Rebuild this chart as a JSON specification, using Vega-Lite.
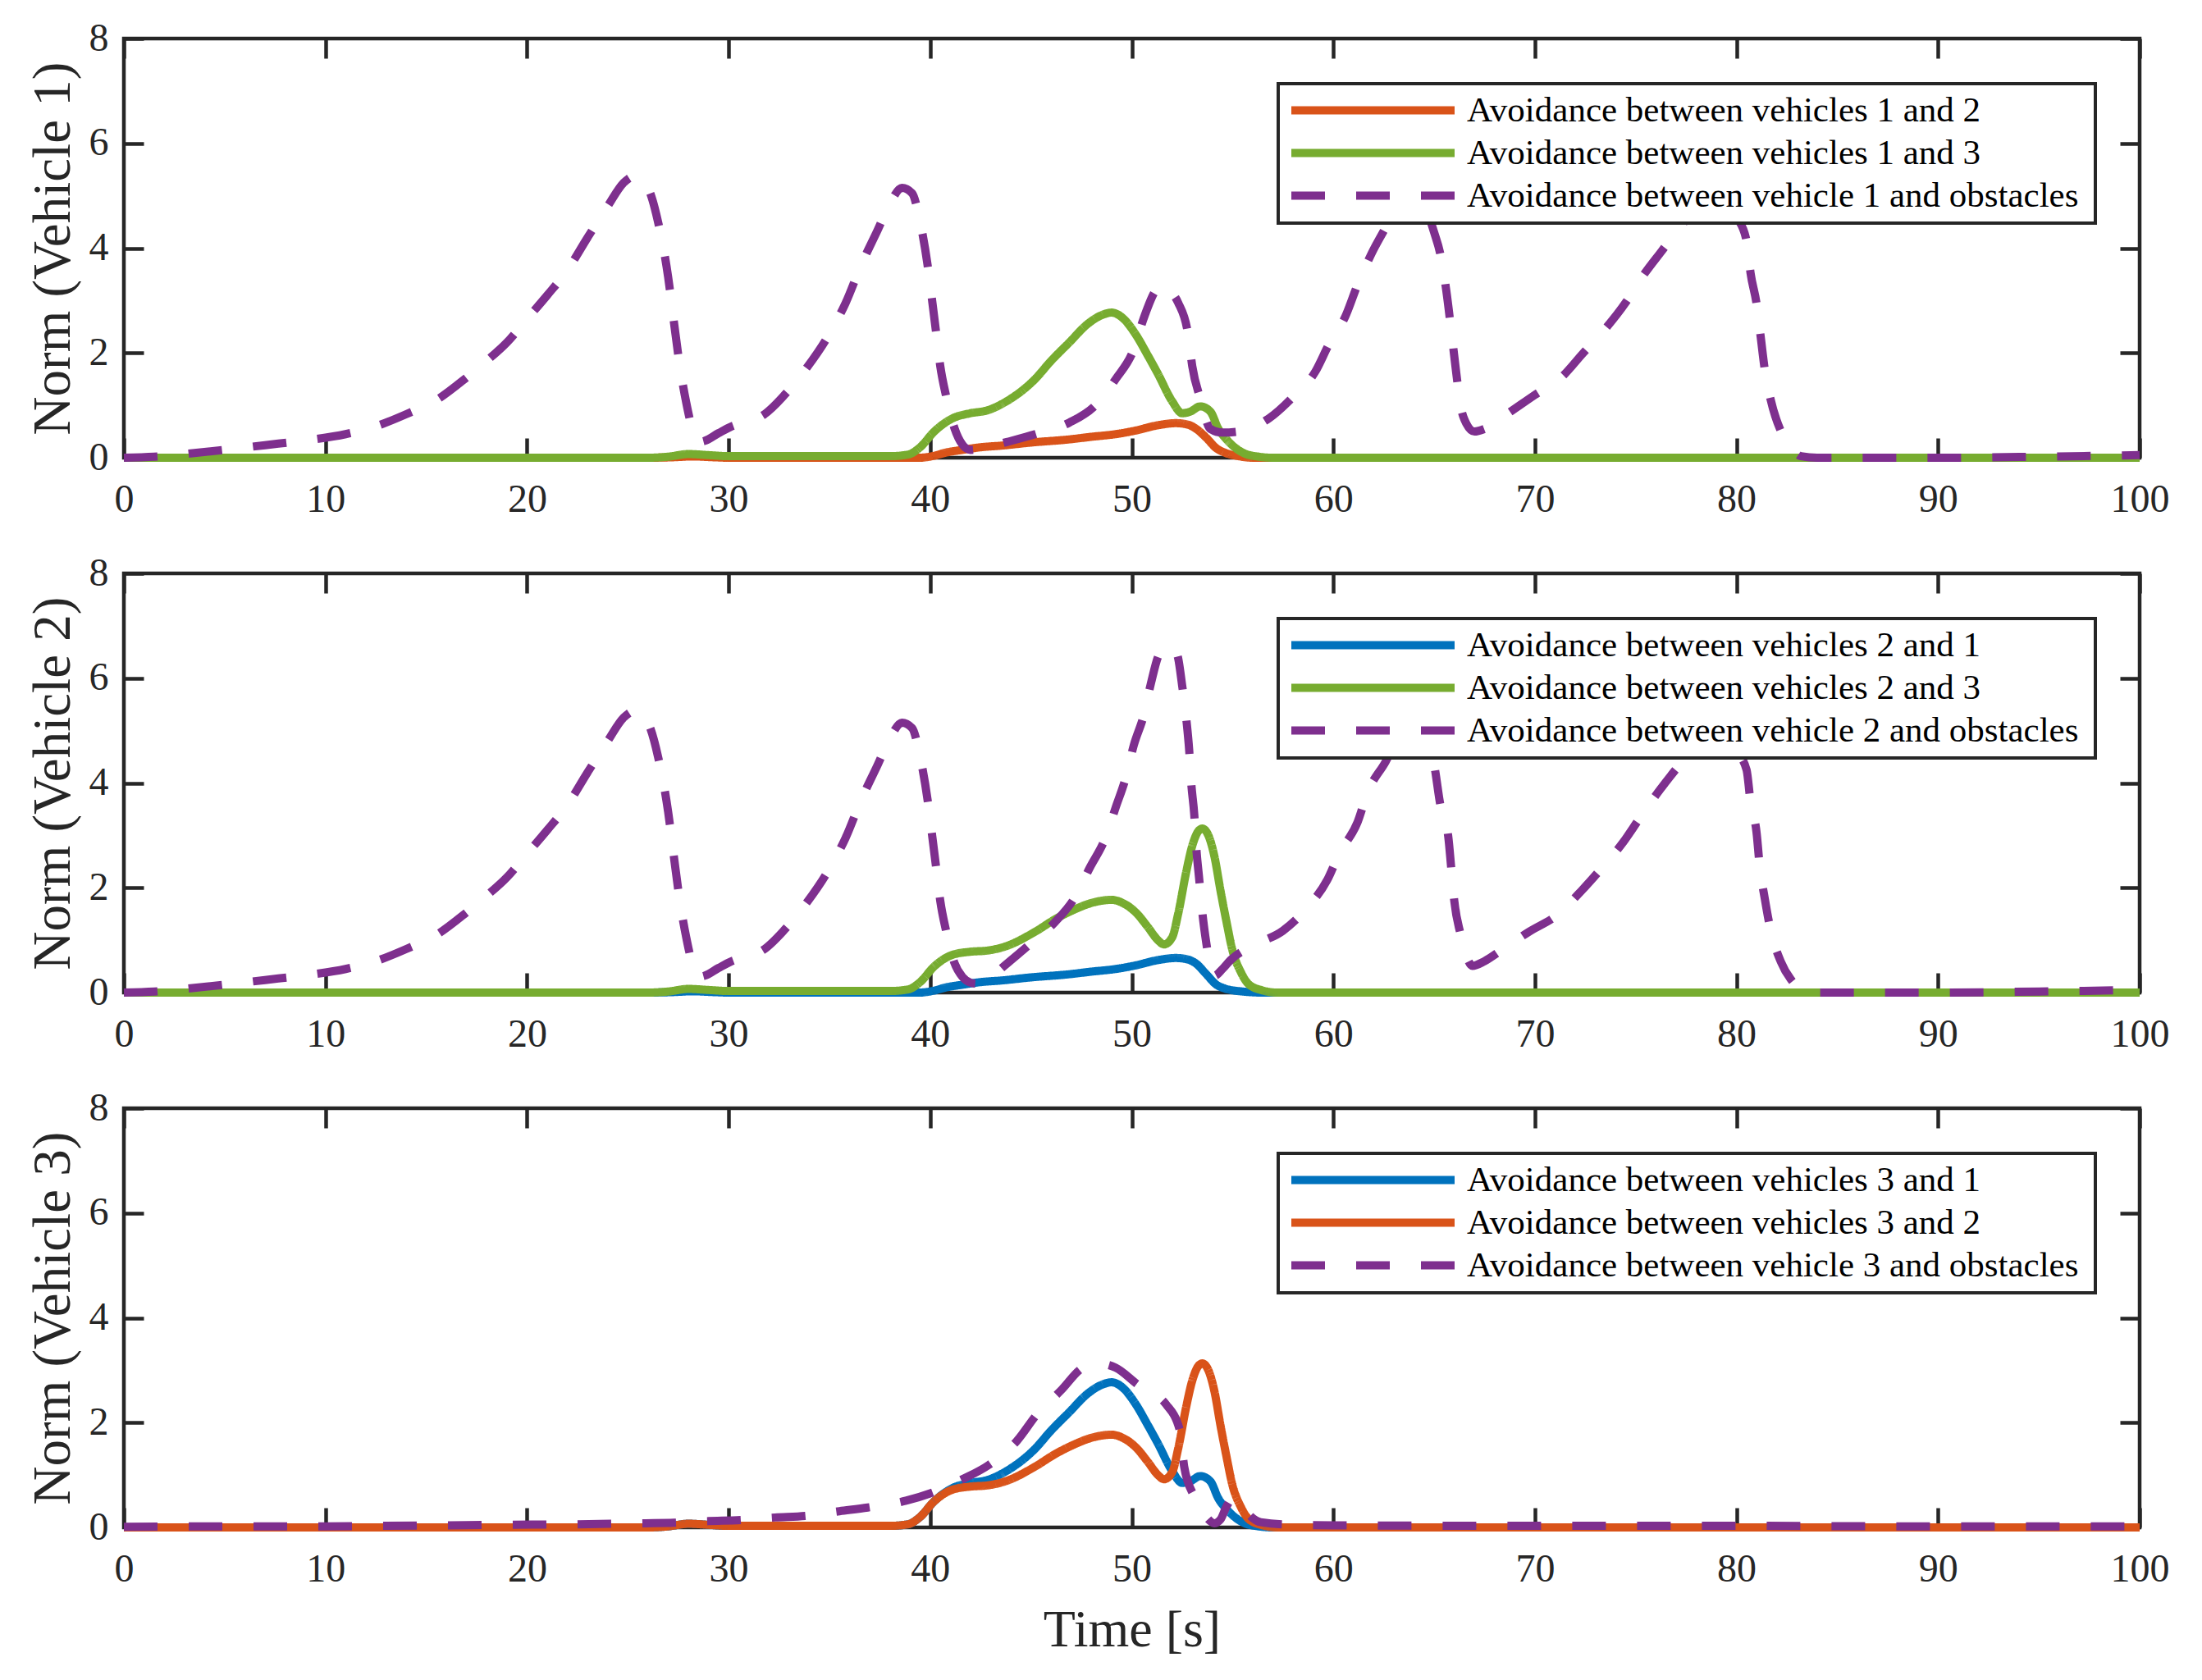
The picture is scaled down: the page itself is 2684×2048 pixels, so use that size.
{
  "$schema": "https://vega.github.io/schema/vega-lite/v6.json",
  "background": "white",
  "autosize": {"type": "pad"},
  "padding": {"left": 29, "top": 20, "right": 5, "bottom": 5},
  "datasets": {
    "curves": [
      {"p":1,"s":"a","t":0,"v":0},{"p":1,"s":"a","t":26,"v":0},{"p":1,"s":"a","t":27.3,"v":0.01},{"p":1,"s":"a","t":28.2,"v":0.025},{"p":1,"s":"a","t":29.2,"v":0.01},{"p":1,"s":"a","t":30,"v":0},{"p":1,"s":"a","t":39.5,"v":0},{"p":1,"s":"a","t":40.1,"v":0.03},{"p":1,"s":"a","t":40.8,"v":0.1},{"p":1,"s":"a","t":41.6,"v":0.15},{"p":1,"s":"a","t":42.5,"v":0.2},{"p":1,"s":"a","t":43.5,"v":0.23},{"p":1,"s":"a","t":45,"v":0.29},{"p":1,"s":"a","t":46.9,"v":0.35},{"p":1,"s":"a","t":48,"v":0.4},{"p":1,"s":"a","t":49.2,"v":0.45},{"p":1,"s":"a","t":50.2,"v":0.52},{"p":1,"s":"a","t":51.3,"v":0.62},{"p":1,"s":"a","t":52.2,"v":0.66},{"p":1,"s":"a","t":52.8,"v":0.63},{"p":1,"s":"a","t":53.2,"v":0.55},{"p":1,"s":"a","t":53.7,"v":0.38},{"p":1,"s":"a","t":54.2,"v":0.18},{"p":1,"s":"a","t":54.6,"v":0.1},{"p":1,"s":"a","t":55.3,"v":0.03},{"p":1,"s":"a","t":56,"v":0},{"p":1,"s":"a","t":100,"v":0},
      {"p":1,"s":"b","t":0,"v":0},{"p":1,"s":"b","t":26,"v":0},{"p":1,"s":"b","t":27,"v":0.02},{"p":1,"s":"b","t":28,"v":0.07},{"p":1,"s":"b","t":29,"v":0.05},{"p":1,"s":"b","t":30,"v":0.03},{"p":1,"s":"b","t":38,"v":0.03},{"p":1,"s":"b","t":38.9,"v":0.06},{"p":1,"s":"b","t":39.5,"v":0.2},{"p":1,"s":"b","t":40.2,"v":0.5},{"p":1,"s":"b","t":41.1,"v":0.75},{"p":1,"s":"b","t":42,"v":0.85},{"p":1,"s":"b","t":42.8,"v":0.9},{"p":1,"s":"b","t":43.8,"v":1.08},{"p":1,"s":"b","t":45.2,"v":1.5},{"p":1,"s":"b","t":46,"v":1.85},{"p":1,"s":"b","t":46.9,"v":2.2},{"p":1,"s":"b","t":47.8,"v":2.55},{"p":1,"s":"b","t":48.5,"v":2.72},{"p":1,"s":"b","t":49,"v":2.77},{"p":1,"s":"b","t":49.6,"v":2.65},{"p":1,"s":"b","t":50.2,"v":2.35},{"p":1,"s":"b","t":50.8,"v":1.95},{"p":1,"s":"b","t":51.3,"v":1.6},{"p":1,"s":"b","t":52,"v":1.08},{"p":1,"s":"b","t":52.5,"v":0.85},{"p":1,"s":"b","t":52.9,"v":0.88},{"p":1,"s":"b","t":53.4,"v":0.98},{"p":1,"s":"b","t":53.9,"v":0.88},{"p":1,"s":"b","t":54.3,"v":0.55},{"p":1,"s":"b","t":54.7,"v":0.35},{"p":1,"s":"b","t":55.1,"v":0.2},{"p":1,"s":"b","t":55.6,"v":0.08},{"p":1,"s":"b","t":56.3,"v":0.02},{"p":1,"s":"b","t":57,"v":0},{"p":1,"s":"b","t":100,"v":0},
      {"p":1,"s":"o","t":0,"v":0},{"p":1,"s":"o","t":1.5,"v":0.02},{"p":1,"s":"o","t":3,"v":0.07},{"p":1,"s":"o","t":5,"v":0.15},{"p":1,"s":"o","t":7,"v":0.24},{"p":1,"s":"o","t":9,"v":0.33},{"p":1,"s":"o","t":11,"v":0.45},{"p":1,"s":"o","t":12.5,"v":0.6},{"p":1,"s":"o","t":14,"v":0.83},{"p":1,"s":"o","t":15.5,"v":1.1},{"p":1,"s":"o","t":17,"v":1.53},{"p":1,"s":"o","t":18,"v":1.85},{"p":1,"s":"o","t":19,"v":2.2},{"p":1,"s":"o","t":20,"v":2.65},{"p":1,"s":"o","t":21,"v":3.1},{"p":1,"s":"o","t":22,"v":3.58},{"p":1,"s":"o","t":23,"v":4.2},{"p":1,"s":"o","t":24,"v":4.8},{"p":1,"s":"o","t":24.8,"v":5.25},{"p":1,"s":"o","t":25.4,"v":5.38},{"p":1,"s":"o","t":26,"v":5.15},{"p":1,"s":"o","t":26.5,"v":4.5},{"p":1,"s":"o","t":27,"v":3.45},{"p":1,"s":"o","t":27.3,"v":2.55},{"p":1,"s":"o","t":27.6,"v":1.7},{"p":1,"s":"o","t":27.9,"v":1.05},{"p":1,"s":"o","t":28.2,"v":0.55},{"p":1,"s":"o","t":28.5,"v":0.3},{"p":1,"s":"o","t":28.8,"v":0.32},{"p":1,"s":"o","t":29.5,"v":0.47},{"p":1,"s":"o","t":30.1,"v":0.59},{"p":1,"s":"o","t":31,"v":0.7},{"p":1,"s":"o","t":31.7,"v":0.81},{"p":1,"s":"o","t":32.8,"v":1.21},{"p":1,"s":"o","t":33.9,"v":1.73},{"p":1,"s":"o","t":34.9,"v":2.3},{"p":1,"s":"o","t":35.8,"v":2.95},{"p":1,"s":"o","t":36.6,"v":3.7},{"p":1,"s":"o","t":37.4,"v":4.35},{"p":1,"s":"o","t":38,"v":4.85},{"p":1,"s":"o","t":38.6,"v":5.15},{"p":1,"s":"o","t":39.1,"v":5.05},{"p":1,"s":"o","t":39.5,"v":4.5},{"p":1,"s":"o","t":39.9,"v":3.6},{"p":1,"s":"o","t":40.1,"v":2.99},{"p":1,"s":"o","t":40.3,"v":2.37},{"p":1,"s":"o","t":40.5,"v":1.75},{"p":1,"s":"o","t":40.8,"v":1.16},{"p":1,"s":"o","t":41.2,"v":0.57},{"p":1,"s":"o","t":41.6,"v":0.25},{"p":1,"s":"o","t":42,"v":0.15},{"p":1,"s":"o","t":42.8,"v":0.2},{"p":1,"s":"o","t":43.8,"v":0.3},{"p":1,"s":"o","t":45.3,"v":0.46},{"p":1,"s":"o","t":46.9,"v":0.67},{"p":1,"s":"o","t":48.2,"v":1.0},{"p":1,"s":"o","t":49.2,"v":1.5},{"p":1,"s":"o","t":50.1,"v":2.07},{"p":1,"s":"o","t":50.6,"v":2.67},{"p":1,"s":"o","t":51.2,"v":3.2},{"p":1,"s":"o","t":51.6,"v":3.3},{"p":1,"s":"o","t":52,"v":3.15},{"p":1,"s":"o","t":52.3,"v":2.96},{"p":1,"s":"o","t":52.8,"v":2.34},{"p":1,"s":"o","t":53,"v":1.75},{"p":1,"s":"o","t":53.4,"v":1.13},{"p":1,"s":"o","t":53.9,"v":0.55},{"p":1,"s":"o","t":54.5,"v":0.48},{"p":1,"s":"o","t":55.3,"v":0.5},{"p":1,"s":"o","t":56,"v":0.58},{"p":1,"s":"o","t":56.8,"v":0.75},{"p":1,"s":"o","t":58,"v":1.16},{"p":1,"s":"o","t":59.1,"v":1.64},{"p":1,"s":"o","t":59.8,"v":2.18},{"p":1,"s":"o","t":60.6,"v":2.7},{"p":1,"s":"o","t":61.2,"v":3.3},{"p":1,"s":"o","t":61.9,"v":3.9},{"p":1,"s":"o","t":62.6,"v":4.4},{"p":1,"s":"o","t":63.4,"v":5.0},{"p":1,"s":"o","t":64,"v":5.2},{"p":1,"s":"o","t":64.5,"v":4.85},{"p":1,"s":"o","t":65,"v":4.3},{"p":1,"s":"o","t":65.3,"v":3.9},{"p":1,"s":"o","t":65.6,"v":3.2},{"p":1,"s":"o","t":65.9,"v":2.26},{"p":1,"s":"o","t":66.1,"v":1.61},{"p":1,"s":"o","t":66.3,"v":1.02},{"p":1,"s":"o","t":66.6,"v":0.65},{"p":1,"s":"o","t":67,"v":0.5},{"p":1,"s":"o","t":67.5,"v":0.55},{"p":1,"s":"o","t":68.6,"v":0.83},{"p":1,"s":"o","t":70,"v":1.2},{"p":1,"s":"o","t":71.3,"v":1.53},{"p":1,"s":"o","t":72.4,"v":2.0},{"p":1,"s":"o","t":73.4,"v":2.42},{"p":1,"s":"o","t":74.5,"v":2.96},{"p":1,"s":"o","t":75.3,"v":3.44},{"p":1,"s":"o","t":76.3,"v":3.95},{"p":1,"s":"o","t":77.3,"v":4.45},{"p":1,"s":"o","t":78.3,"v":4.85},{"p":1,"s":"o","t":79.2,"v":5.0},{"p":1,"s":"o","t":80,"v":4.6},{"p":1,"s":"o","t":80.5,"v":4.14},{"p":1,"s":"o","t":80.7,"v":3.52},{"p":1,"s":"o","t":81,"v":2.93},{"p":1,"s":"o","t":81.2,"v":2.31},{"p":1,"s":"o","t":81.4,"v":1.69},{"p":1,"s":"o","t":81.7,"v":1.1},{"p":1,"s":"o","t":82.2,"v":0.51},{"p":1,"s":"o","t":82.7,"v":0.2},{"p":1,"s":"o","t":83.2,"v":0.03},{"p":1,"s":"o","t":84,"v":0},{"p":1,"s":"o","t":90,"v":0},{"p":1,"s":"o","t":95,"v":0.02},{"p":1,"s":"o","t":100,"v":0.05},

      {"p":2,"s":"a","t":0,"v":0},{"p":2,"s":"a","t":26,"v":0},{"p":2,"s":"a","t":27.3,"v":0.01},{"p":2,"s":"a","t":28.2,"v":0.025},{"p":2,"s":"a","t":29.2,"v":0.01},{"p":2,"s":"a","t":30,"v":0},{"p":2,"s":"a","t":39.5,"v":0},{"p":2,"s":"a","t":40.1,"v":0.03},{"p":2,"s":"a","t":40.8,"v":0.1},{"p":2,"s":"a","t":41.6,"v":0.15},{"p":2,"s":"a","t":42.5,"v":0.2},{"p":2,"s":"a","t":43.5,"v":0.23},{"p":2,"s":"a","t":45,"v":0.29},{"p":2,"s":"a","t":46.9,"v":0.35},{"p":2,"s":"a","t":48,"v":0.4},{"p":2,"s":"a","t":49.2,"v":0.45},{"p":2,"s":"a","t":50.2,"v":0.52},{"p":2,"s":"a","t":51.3,"v":0.62},{"p":2,"s":"a","t":52.2,"v":0.66},{"p":2,"s":"a","t":52.8,"v":0.63},{"p":2,"s":"a","t":53.2,"v":0.55},{"p":2,"s":"a","t":53.7,"v":0.35},{"p":2,"s":"a","t":54.2,"v":0.15},{"p":2,"s":"a","t":54.6,"v":0.08},{"p":2,"s":"a","t":55.5,"v":0.02},{"p":2,"s":"a","t":56.5,"v":0},{"p":2,"s":"a","t":100,"v":0},
      {"p":2,"s":"b","t":0,"v":0},{"p":2,"s":"b","t":26,"v":0},{"p":2,"s":"b","t":27,"v":0.02},{"p":2,"s":"b","t":28,"v":0.07},{"p":2,"s":"b","t":29,"v":0.05},{"p":2,"s":"b","t":30,"v":0.03},{"p":2,"s":"b","t":38,"v":0.03},{"p":2,"s":"b","t":38.9,"v":0.06},{"p":2,"s":"b","t":39.5,"v":0.2},{"p":2,"s":"b","t":40.2,"v":0.5},{"p":2,"s":"b","t":41.1,"v":0.72},{"p":2,"s":"b","t":42,"v":0.78},{"p":2,"s":"b","t":42.8,"v":0.8},{"p":2,"s":"b","t":43.8,"v":0.89},{"p":2,"s":"b","t":45.2,"v":1.16},{"p":2,"s":"b","t":46.2,"v":1.4},{"p":2,"s":"b","t":46.9,"v":1.54},{"p":2,"s":"b","t":48.2,"v":1.73},{"p":2,"s":"b","t":49,"v":1.77},{"p":2,"s":"b","t":49.6,"v":1.7},{"p":2,"s":"b","t":50.2,"v":1.53},{"p":2,"s":"b","t":50.8,"v":1.25},{"p":2,"s":"b","t":51.3,"v":1.0},{"p":2,"s":"b","t":51.6,"v":0.92},{"p":2,"s":"b","t":52,"v":1.05},{"p":2,"s":"b","t":52.3,"v":1.5},{"p":2,"s":"b","t":52.7,"v":2.3},{"p":2,"s":"b","t":53,"v":2.8},{"p":2,"s":"b","t":53.3,"v":3.08},{"p":2,"s":"b","t":53.5,"v":3.13},{"p":2,"s":"b","t":53.8,"v":3.0},{"p":2,"s":"b","t":54.1,"v":2.6},{"p":2,"s":"b","t":54.4,"v":1.95},{"p":2,"s":"b","t":54.7,"v":1.35},{"p":2,"s":"b","t":55,"v":0.8},{"p":2,"s":"b","t":55.4,"v":0.4},{"p":2,"s":"b","t":55.8,"v":0.16},{"p":2,"s":"b","t":56.5,"v":0.04},{"p":2,"s":"b","t":57.2,"v":0},{"p":2,"s":"b","t":100,"v":0},
      {"p":2,"s":"o","t":0,"v":0},{"p":2,"s":"o","t":1.5,"v":0.02},{"p":2,"s":"o","t":3,"v":0.07},{"p":2,"s":"o","t":5,"v":0.15},{"p":2,"s":"o","t":7,"v":0.24},{"p":2,"s":"o","t":9,"v":0.33},{"p":2,"s":"o","t":11,"v":0.45},{"p":2,"s":"o","t":12.5,"v":0.6},{"p":2,"s":"o","t":14,"v":0.83},{"p":2,"s":"o","t":15.5,"v":1.1},{"p":2,"s":"o","t":17,"v":1.53},{"p":2,"s":"o","t":18,"v":1.85},{"p":2,"s":"o","t":19,"v":2.2},{"p":2,"s":"o","t":20,"v":2.65},{"p":2,"s":"o","t":21,"v":3.1},{"p":2,"s":"o","t":22,"v":3.58},{"p":2,"s":"o","t":23,"v":4.2},{"p":2,"s":"o","t":24,"v":4.8},{"p":2,"s":"o","t":24.8,"v":5.25},{"p":2,"s":"o","t":25.4,"v":5.38},{"p":2,"s":"o","t":26,"v":5.15},{"p":2,"s":"o","t":26.5,"v":4.5},{"p":2,"s":"o","t":27,"v":3.45},{"p":2,"s":"o","t":27.3,"v":2.55},{"p":2,"s":"o","t":27.6,"v":1.7},{"p":2,"s":"o","t":27.9,"v":1.05},{"p":2,"s":"o","t":28.2,"v":0.55},{"p":2,"s":"o","t":28.5,"v":0.3},{"p":2,"s":"o","t":28.8,"v":0.32},{"p":2,"s":"o","t":29.5,"v":0.47},{"p":2,"s":"o","t":30.1,"v":0.59},{"p":2,"s":"o","t":31,"v":0.7},{"p":2,"s":"o","t":31.7,"v":0.81},{"p":2,"s":"o","t":32.8,"v":1.21},{"p":2,"s":"o","t":33.9,"v":1.73},{"p":2,"s":"o","t":34.9,"v":2.3},{"p":2,"s":"o","t":35.8,"v":2.95},{"p":2,"s":"o","t":36.6,"v":3.7},{"p":2,"s":"o","t":37.4,"v":4.35},{"p":2,"s":"o","t":38,"v":4.85},{"p":2,"s":"o","t":38.6,"v":5.15},{"p":2,"s":"o","t":39.1,"v":5.05},{"p":2,"s":"o","t":39.5,"v":4.5},{"p":2,"s":"o","t":39.9,"v":3.6},{"p":2,"s":"o","t":40.1,"v":2.99},{"p":2,"s":"o","t":40.3,"v":2.37},{"p":2,"s":"o","t":40.5,"v":1.75},{"p":2,"s":"o","t":40.8,"v":1.16},{"p":2,"s":"o","t":41.2,"v":0.57},{"p":2,"s":"o","t":41.6,"v":0.3},{"p":2,"s":"o","t":42,"v":0.19},{"p":2,"s":"o","t":42.3,"v":0.17},{"p":2,"s":"o","t":43,"v":0.3},{"p":2,"s":"o","t":43.8,"v":0.55},{"p":2,"s":"o","t":45,"v":0.94},{"p":2,"s":"o","t":46.2,"v":1.35},{"p":2,"s":"o","t":47.2,"v":1.83},{"p":2,"s":"o","t":47.9,"v":2.37},{"p":2,"s":"o","t":48.7,"v":2.96},{"p":2,"s":"o","t":49.2,"v":3.53},{"p":2,"s":"o","t":49.7,"v":4.1},{"p":2,"s":"o","t":50.1,"v":4.72},{"p":2,"s":"o","t":50.6,"v":5.3},{"p":2,"s":"o","t":50.95,"v":5.9},{"p":2,"s":"o","t":51.35,"v":6.45},{"p":2,"s":"o","t":51.8,"v":6.62},{"p":2,"s":"o","t":52.25,"v":6.45},{"p":2,"s":"o","t":52.5,"v":5.86},{"p":2,"s":"o","t":52.7,"v":5.24},{"p":2,"s":"o","t":52.85,"v":4.62},{"p":2,"s":"o","t":52.95,"v":4.0},{"p":2,"s":"o","t":53.1,"v":3.4},{"p":2,"s":"o","t":53.2,"v":2.77},{"p":2,"s":"o","t":53.35,"v":2.15},{"p":2,"s":"o","t":53.5,"v":1.53},{"p":2,"s":"o","t":53.7,"v":0.94},{"p":2,"s":"o","t":53.9,"v":0.5},{"p":2,"s":"o","t":54.1,"v":0.32},{"p":2,"s":"o","t":54.5,"v":0.45},{"p":2,"s":"o","t":54.9,"v":0.62},{"p":2,"s":"o","t":56.1,"v":0.91},{"p":2,"s":"o","t":57.5,"v":1.18},{"p":2,"s":"o","t":58.75,"v":1.64},{"p":2,"s":"o","t":59.7,"v":2.15},{"p":2,"s":"o","t":60.3,"v":2.66},{"p":2,"s":"o","t":61.2,"v":3.25},{"p":2,"s":"o","t":61.7,"v":3.82},{"p":2,"s":"o","t":62.6,"v":4.41},{"p":2,"s":"o","t":63.4,"v":5.0},{"p":2,"s":"o","t":64,"v":5.2},{"p":2,"s":"o","t":64.5,"v":4.85},{"p":2,"s":"o","t":65,"v":4.35},{"p":2,"s":"o","t":65.3,"v":3.6},{"p":2,"s":"o","t":65.7,"v":2.98},{"p":2,"s":"o","t":65.85,"v":2.37},{"p":2,"s":"o","t":66,"v":1.75},{"p":2,"s":"o","t":66.3,"v":1.13},{"p":2,"s":"o","t":66.6,"v":0.7},{"p":2,"s":"o","t":66.9,"v":0.51},{"p":2,"s":"o","t":67.5,"v":0.6},{"p":2,"s":"o","t":68.3,"v":0.8},{"p":2,"s":"o","t":69.7,"v":1.16},{"p":2,"s":"o","t":71.1,"v":1.48},{"p":2,"s":"o","t":72.3,"v":1.94},{"p":2,"s":"o","t":73.3,"v":2.37},{"p":2,"s":"o","t":74.4,"v":2.88},{"p":2,"s":"o","t":75.2,"v":3.33},{"p":2,"s":"o","t":76.2,"v":3.87},{"p":2,"s":"o","t":77.3,"v":4.4},{"p":2,"s":"o","t":78.3,"v":4.8},{"p":2,"s":"o","t":79.2,"v":4.95},{"p":2,"s":"o","t":80,"v":4.6},{"p":2,"s":"o","t":80.5,"v":4.25},{"p":2,"s":"o","t":80.7,"v":3.63},{"p":2,"s":"o","t":81,"v":3.04},{"p":2,"s":"o","t":81.15,"v":2.42},{"p":2,"s":"o","t":81.4,"v":1.8},{"p":2,"s":"o","t":81.7,"v":1.18},{"p":2,"s":"o","t":82.2,"v":0.59},{"p":2,"s":"o","t":82.7,"v":0.25},{"p":2,"s":"o","t":83.1,"v":0.1},{"p":2,"s":"o","t":84,"v":0},{"p":2,"s":"o","t":90,"v":0},{"p":2,"s":"o","t":95,"v":0.02},{"p":2,"s":"o","t":100,"v":0.05},

      {"p":3,"s":"a","t":0,"v":0},{"p":3,"s":"a","t":26,"v":0},{"p":3,"s":"a","t":27,"v":0.02},{"p":3,"s":"a","t":28,"v":0.07},{"p":3,"s":"a","t":29,"v":0.05},{"p":3,"s":"a","t":30,"v":0.03},{"p":3,"s":"a","t":38,"v":0.03},{"p":3,"s":"a","t":38.9,"v":0.06},{"p":3,"s":"a","t":39.5,"v":0.2},{"p":3,"s":"a","t":40.2,"v":0.5},{"p":3,"s":"a","t":41.1,"v":0.75},{"p":3,"s":"a","t":42,"v":0.85},{"p":3,"s":"a","t":42.8,"v":0.9},{"p":3,"s":"a","t":43.8,"v":1.08},{"p":3,"s":"a","t":45.2,"v":1.5},{"p":3,"s":"a","t":46,"v":1.85},{"p":3,"s":"a","t":46.9,"v":2.2},{"p":3,"s":"a","t":47.8,"v":2.55},{"p":3,"s":"a","t":48.5,"v":2.72},{"p":3,"s":"a","t":49,"v":2.77},{"p":3,"s":"a","t":49.6,"v":2.65},{"p":3,"s":"a","t":50.2,"v":2.35},{"p":3,"s":"a","t":50.8,"v":1.95},{"p":3,"s":"a","t":51.3,"v":1.6},{"p":3,"s":"a","t":52,"v":1.08},{"p":3,"s":"a","t":52.5,"v":0.85},{"p":3,"s":"a","t":52.9,"v":0.88},{"p":3,"s":"a","t":53.4,"v":0.98},{"p":3,"s":"a","t":53.9,"v":0.88},{"p":3,"s":"a","t":54.3,"v":0.55},{"p":3,"s":"a","t":54.7,"v":0.35},{"p":3,"s":"a","t":55.1,"v":0.2},{"p":3,"s":"a","t":55.6,"v":0.08},{"p":3,"s":"a","t":56.3,"v":0.02},{"p":3,"s":"a","t":57,"v":0},{"p":3,"s":"a","t":100,"v":0},
      {"p":3,"s":"b","t":0,"v":0},{"p":3,"s":"b","t":26,"v":0},{"p":3,"s":"b","t":27,"v":0.02},{"p":3,"s":"b","t":28,"v":0.07},{"p":3,"s":"b","t":29,"v":0.05},{"p":3,"s":"b","t":30,"v":0.03},{"p":3,"s":"b","t":38,"v":0.03},{"p":3,"s":"b","t":38.9,"v":0.06},{"p":3,"s":"b","t":39.5,"v":0.2},{"p":3,"s":"b","t":40.2,"v":0.5},{"p":3,"s":"b","t":41.1,"v":0.72},{"p":3,"s":"b","t":42,"v":0.78},{"p":3,"s":"b","t":42.8,"v":0.8},{"p":3,"s":"b","t":43.8,"v":0.89},{"p":3,"s":"b","t":45.2,"v":1.16},{"p":3,"s":"b","t":46.2,"v":1.4},{"p":3,"s":"b","t":46.9,"v":1.54},{"p":3,"s":"b","t":48.2,"v":1.73},{"p":3,"s":"b","t":49,"v":1.77},{"p":3,"s":"b","t":49.6,"v":1.7},{"p":3,"s":"b","t":50.2,"v":1.53},{"p":3,"s":"b","t":50.8,"v":1.25},{"p":3,"s":"b","t":51.3,"v":1.0},{"p":3,"s":"b","t":51.6,"v":0.92},{"p":3,"s":"b","t":52,"v":1.05},{"p":3,"s":"b","t":52.3,"v":1.5},{"p":3,"s":"b","t":52.7,"v":2.3},{"p":3,"s":"b","t":53,"v":2.8},{"p":3,"s":"b","t":53.3,"v":3.08},{"p":3,"s":"b","t":53.5,"v":3.13},{"p":3,"s":"b","t":53.8,"v":3.0},{"p":3,"s":"b","t":54.1,"v":2.6},{"p":3,"s":"b","t":54.4,"v":1.95},{"p":3,"s":"b","t":54.7,"v":1.35},{"p":3,"s":"b","t":55,"v":0.8},{"p":3,"s":"b","t":55.4,"v":0.4},{"p":3,"s":"b","t":55.8,"v":0.16},{"p":3,"s":"b","t":56.5,"v":0.04},{"p":3,"s":"b","t":57.2,"v":0},{"p":3,"s":"b","t":100,"v":0},
      {"p":3,"s":"o","t":0,"v":0.01},{"p":3,"s":"o","t":5,"v":0.02},{"p":3,"s":"o","t":10,"v":0.02},{"p":3,"s":"o","t":13,"v":0.03},{"p":3,"s":"o","t":16,"v":0.04},{"p":3,"s":"o","t":19,"v":0.05},{"p":3,"s":"o","t":22.5,"v":0.06},{"p":3,"s":"o","t":25.8,"v":0.08},{"p":3,"s":"o","t":27.3,"v":0.09},{"p":3,"s":"o","t":29,"v":0.12},{"p":3,"s":"o","t":30.6,"v":0.14},{"p":3,"s":"o","t":32.3,"v":0.19},{"p":3,"s":"o","t":33.8,"v":0.22},{"p":3,"s":"o","t":35.5,"v":0.31},{"p":3,"s":"o","t":36.9,"v":0.38},{"p":3,"s":"o","t":38.8,"v":0.51},{"p":3,"s":"o","t":40,"v":0.65},{"p":3,"s":"o","t":41.6,"v":0.92},{"p":3,"s":"o","t":42.9,"v":1.19},{"p":3,"s":"o","t":44.3,"v":1.65},{"p":3,"s":"o","t":45.3,"v":2.16},{"p":3,"s":"o","t":46.5,"v":2.62},{"p":3,"s":"o","t":47.5,"v":3.03},{"p":3,"s":"o","t":48.3,"v":3.13},{"p":3,"s":"o","t":49.2,"v":3.05},{"p":3,"s":"o","t":50.4,"v":2.7},{"p":3,"s":"o","t":51.1,"v":2.55},{"p":3,"s":"o","t":51.7,"v":2.35},{"p":3,"s":"o","t":52.4,"v":1.83},{"p":3,"s":"o","t":52.6,"v":1.16},{"p":3,"s":"o","t":53.1,"v":0.59},{"p":3,"s":"o","t":53.7,"v":0.2},{"p":3,"s":"o","t":54.1,"v":0.08},{"p":3,"s":"o","t":54.4,"v":0.15},{"p":3,"s":"o","t":54.7,"v":0.4},{"p":3,"s":"o","t":55,"v":0.55},{"p":3,"s":"o","t":55.4,"v":0.45},{"p":3,"s":"o","t":55.8,"v":0.25},{"p":3,"s":"o","t":56.4,"v":0.1},{"p":3,"s":"o","t":58,"v":0.05},{"p":3,"s":"o","t":60,"v":0.04},{"p":3,"s":"o","t":70,"v":0.03},{"p":3,"s":"o","t":80,"v":0.03},{"p":3,"s":"o","t":90,"v":0.02},{"p":3,"s":"o","t":100,"v":0.02}
    ]
  },
  "spacing": 141,
  "bounds": "flush",
  "resolve": {
    "scale": {"color": "independent", "strokeDash": "independent", "x": "independent", "y": "independent"},
    "legend": {"color": "independent", "strokeDash": "independent"}
  },
  "vconcat": [
    {
      "width": 2457, "height": 511,
      "data": {"name": "curves"},
      "transform": [{"filter": "datum.p == 1"}],
      "layer": [
        {
          "mark": {"type": "line", "strokeWidth": 10, "interpolate": "monotone", "strokeCap": "butt"},
          "encoding": {
            "x": {"field": "t", "type": "quantitative", "scale": {"domain": [0, 100], "nice": false}, "axis": {"values": [0,10,20,30,40,50,60,70,80,90,100], "title": null}},
            "y": {"field": "v", "type": "quantitative", "scale": {"domain": [0, 8], "nice": false}, "axis": {"values": [0,2,4,6,8], "title": "Norm (Vehicle 1)"}},
            "color": {"field": "s", "type": "nominal", "scale": {"domain": ["a","b","o"], "range": ["#D95319","#77AC30","#7E2F8E"]},
              "legend": {"title": "\u00a0", "orient": "none", "legendX": 1407, "legendY": 55, "labelExpr": "datum.value == 'a' ? 'Avoidance between vehicles 1 and 2' : datum.value == 'b' ? 'Avoidance between vehicles 1 and 3' : 'Avoidance between vehicle 1 and obstacles'"}},
            "strokeDash": {"field": "s", "type": "nominal", "scale": {"domain": ["a","b","o"], "range": [[1,0],[1,0],[41,38]]},
              "legend": {"title": "\u00a0", "orient": "none", "legendX": 1407, "legendY": 55, "labelExpr": "datum.value == 'a' ? 'Avoidance between vehicles 1 and 2' : datum.value == 'b' ? 'Avoidance between vehicles 1 and 3' : 'Avoidance between vehicle 1 and obstacles'"}}
          }
        },
        {
          "mark": {"type": "point", "opacity": 0},
          "encoding": {
            "x": {"field": "t", "type": "quantitative", "axis": {"orient": "top", "values": [0,10,20,30,40,50,60,70,80,90,100], "labels": false, "title": null}},
            "y": {"field": "v", "type": "quantitative", "axis": {"orient": "right", "values": [0,2,4,6,8], "labels": false, "title": null}}
          }
        }
      ],
      "resolve": {"axis": {"x": "independent", "y": "independent"}}
    },
    {
      "width": 2457, "height": 511,
      "data": {"name": "curves"},
      "transform": [{"filter": "datum.p == 2"}],
      "layer": [
        {
          "mark": {"type": "line", "strokeWidth": 10, "interpolate": "monotone", "strokeCap": "butt"},
          "encoding": {
            "x": {"field": "t", "type": "quantitative", "scale": {"domain": [0, 100], "nice": false}, "axis": {"values": [0,10,20,30,40,50,60,70,80,90,100], "title": null}},
            "y": {"field": "v", "type": "quantitative", "scale": {"domain": [0, 8], "nice": false}, "axis": {"values": [0,2,4,6,8], "title": "Norm (Vehicle 2)"}},
            "color": {"field": "s", "type": "nominal", "scale": {"domain": ["a","b","o"], "range": ["#0072BD","#77AC30","#7E2F8E"]},
              "legend": {"title": "\u00a0", "orient": "none", "legendX": 1407, "legendY": 55, "labelExpr": "datum.value == 'a' ? 'Avoidance between vehicles 2 and 1' : datum.value == 'b' ? 'Avoidance between vehicles 2 and 3' : 'Avoidance between vehicle 2 and obstacles'"}},
            "strokeDash": {"field": "s", "type": "nominal", "scale": {"domain": ["a","b","o"], "range": [[1,0],[1,0],[41,38]]},
              "legend": {"title": "\u00a0", "orient": "none", "legendX": 1407, "legendY": 55, "labelExpr": "datum.value == 'a' ? 'Avoidance between vehicles 2 and 1' : datum.value == 'b' ? 'Avoidance between vehicles 2 and 3' : 'Avoidance between vehicle 2 and obstacles'"}}
          }
        },
        {
          "mark": {"type": "point", "opacity": 0},
          "encoding": {
            "x": {"field": "t", "type": "quantitative", "axis": {"orient": "top", "values": [0,10,20,30,40,50,60,70,80,90,100], "labels": false, "title": null}},
            "y": {"field": "v", "type": "quantitative", "axis": {"orient": "right", "values": [0,2,4,6,8], "labels": false, "title": null}}
          }
        }
      ],
      "resolve": {"axis": {"x": "independent", "y": "independent"}}
    },
    {
      "width": 2457, "height": 511,
      "data": {"name": "curves"},
      "transform": [{"filter": "datum.p == 3"}],
      "layer": [
        {
          "mark": {"type": "line", "strokeWidth": 10, "interpolate": "monotone", "strokeCap": "butt"},
          "encoding": {
            "x": {"field": "t", "type": "quantitative", "scale": {"domain": [0, 100], "nice": false}, "axis": {"values": [0,10,20,30,40,50,60,70,80,90,100], "title": "Time [s]", "titleFontSize": 64, "titlePadding": 18}},
            "y": {"field": "v", "type": "quantitative", "scale": {"domain": [0, 8], "nice": false}, "axis": {"values": [0,2,4,6,8], "title": "Norm (Vehicle 3)"}},
            "color": {"field": "s", "type": "nominal", "scale": {"domain": ["a","b","o"], "range": ["#0072BD","#D95319","#7E2F8E"]},
              "legend": {"title": "\u00a0", "orient": "none", "legendX": 1407, "legendY": 55, "labelExpr": "datum.value == 'a' ? 'Avoidance between vehicles 3 and 1' : datum.value == 'b' ? 'Avoidance between vehicles 3 and 2' : 'Avoidance between vehicle 3 and obstacles'"}},
            "strokeDash": {"field": "s", "type": "nominal", "scale": {"domain": ["a","b","o"], "range": [[1,0],[1,0],[41,38]]},
              "legend": {"title": "\u00a0", "orient": "none", "legendX": 1407, "legendY": 55, "labelExpr": "datum.value == 'a' ? 'Avoidance between vehicles 3 and 1' : datum.value == 'b' ? 'Avoidance between vehicles 3 and 2' : 'Avoidance between vehicle 3 and obstacles'"}}
          }
        },
        {
          "mark": {"type": "point", "opacity": 0},
          "encoding": {
            "x": {"field": "t", "type": "quantitative", "axis": {"orient": "top", "values": [0,10,20,30,40,50,60,70,80,90,100], "labels": false, "title": null}},
            "y": {"field": "v", "type": "quantitative", "axis": {"orient": "right", "values": [0,2,4,6,8], "labels": false, "title": null}}
          }
        }
      ],
      "resolve": {"axis": {"x": "independent", "y": "independent"}}
    }
  ],
  "config": {
    "view": {"stroke": "#262626", "strokeWidth": 4.5},
    "axis": {
      "domain": false, "grid": false,
      "tickSize": -24, "tickWidth": 4.5, "tickColor": "#262626",
      "labelFont": "Liberation Serif", "labelFontSize": 48, "labelColor": "#262626", "labelFlush": false, "labelOverlap": false,
      "titleFont": "Liberation Serif", "titleFontSize": 65, "titleFontWeight": "normal", "titleColor": "#262626"
    },
    "axisX": {"labelPadding": 51},
    "axisY": {"labelPadding": 43, "titlePadding": 10},
    "legend": {
      "labelFont": "Liberation Serif", "labelFontSize": 43, "labelColor": "black", "labelLimit": 3000,
      "symbolType": "stroke", "symbolSize": 39601, "symbolStrokeWidth": 10,
      "clipHeight": 43, "labelOffset": 10, "rowPadding": 8, "padding": 11,
      "titleOrient": "right", "titleFontSize": 10, "titlePadding": 10, "titleFont": "Liberation Serif",
      "fillColor": "white", "strokeColor": "#262626", "strokeWidth": 4
    }
  }
}
